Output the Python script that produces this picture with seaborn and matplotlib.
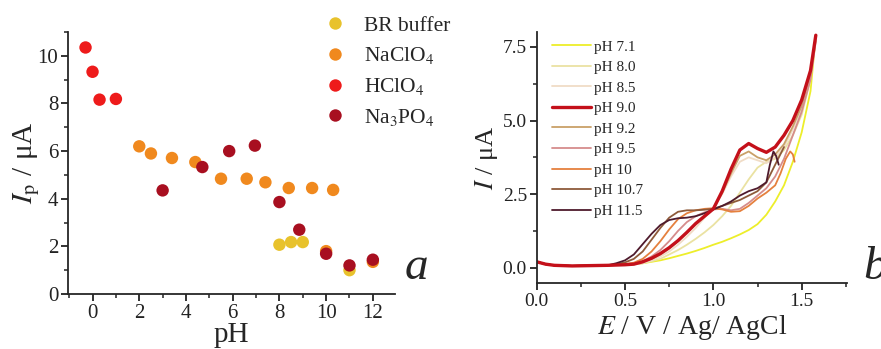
import numpy as np
import pandas as pd
import matplotlib
matplotlib.use("Agg")
import matplotlib.pyplot as plt
from matplotlib.ticker import MultipleLocator, FixedLocator
import seaborn as sns

# ---------------- Panel a data ----------------
br_ph = [8.0, 8.5, 9.0, 11.0]
br_ip = [2.07, 2.18, 2.18, 1.0]
naclo4_ph = [2.0, 2.5, 3.4, 4.4, 5.5, 6.6, 7.4, 8.4, 9.4, 10.3, 10.0, 12.0]
naclo4_ip = [6.2, 5.9, 5.71, 5.54, 4.84, 4.84, 4.69, 4.45, 4.45, 4.37, 1.8, 1.35]
hclo4_ph = [-0.3, 0.0, 0.3, 1.0]
hclo4_ip = [10.35, 9.33, 8.16, 8.19]
na3po4_ph = [3.0, 4.7, 5.85, 6.95, 8.0, 8.85, 10.0, 11.0, 12.0]
na3po4_ip = [4.35, 5.33, 6.0, 6.23, 3.86, 2.7, 1.69, 1.2, 1.44]

series_a = ["BR buffer", "NaClO$_4$", "HClO$_4$", "Na$_3$PO$_4$"]
colors_a = ["#E8C22C", "#F0891E", "#EE1B1B", "#A80F20"]

# ---------------- Panel b data ----------------
E_base = [0.0, 0.05, 0.1, 0.2, 0.3, 0.4]
I_base = [0.2, 0.12, 0.08, 0.06, 0.07, 0.08]

E_grid = [0.45, 0.5, 0.55, 0.6, 0.65, 0.7, 0.75, 0.8, 0.85, 0.9, 0.95, 1.0,
          1.05, 1.1, 1.15, 1.2, 1.25, 1.3, 1.35, 1.4, 1.45, 1.5, 1.55, 1.58]

I_ph71 = [0.09, 0.1, 0.12, 0.15, 0.2, 0.25, 0.32, 0.4, 0.48, 0.57, 0.67, 0.78,
          0.88, 1.0, 1.13, 1.28, 1.48, 1.8, 2.25, 2.8, 3.6, 4.6, 6.0, 7.9]
I_ph80 = [0.09, 0.1, 0.12, 0.15, 0.22, 0.3, 0.45, 0.6, 0.78, 0.98, 1.2, 1.45,
          1.75, 2.1, 2.55, 3.0, 3.4, 3.6, 3.7, 4.0, 4.5, 5.2, 6.4, 7.8]
I_ph85 = [0.09, 0.1, 0.12, 0.15, 0.25, 0.38, 0.55, 0.78, 1.05, 1.35, 1.7, 2.05,
          2.5, 3.1, 3.6, 3.75, 3.65, 3.55, 3.75, 4.1, 4.7, 5.4, 6.5, 7.8]
I_ph90 = [0.09, 0.1, 0.12, 0.2, 0.32, 0.48, 0.68, 0.92, 1.2, 1.5, 1.75, 2.0,
          2.6, 3.35, 4.0, 4.22, 4.05, 3.92, 4.1, 4.5, 5.0, 5.7, 6.7, 7.9]
I_ph92 = [0.09, 0.1, 0.13, 0.2, 0.3, 0.45, 0.65, 0.9, 1.2, 1.5, 1.78, 2.02,
          2.55, 3.2, 3.8, 3.95, 3.75, 3.65, 3.85, 4.2, 4.8, 5.5, 6.6, 7.85]
I_ph95 = [0.1, 0.12, 0.15, 0.22, 0.38, 0.6, 0.9, 1.25, 1.55, 1.75, 1.88, 1.98,
          2.0, 1.95, 2.0, 2.2, 2.45, 2.7, 3.1, 3.7, 4.5, 5.3, 6.4, 7.7]

E_ph10 = [0.45, 0.5, 0.55, 0.6, 0.65, 0.7, 0.75, 0.8, 0.85, 0.9, 0.95, 1.0,
          1.05, 1.1, 1.15, 1.2, 1.25, 1.3, 1.35, 1.38, 1.41, 1.435, 1.45, 1.46]
I_ph10 = [0.1, 0.12, 0.17, 0.3, 0.55, 0.9, 1.3, 1.65, 1.85, 1.95, 2.0, 2.02,
          1.98, 1.9, 1.92, 2.1, 2.35, 2.55, 2.8, 3.2, 3.7, 3.95, 3.85, 3.6]

E_ph107 = [0.45, 0.5, 0.55, 0.6, 0.65, 0.7, 0.75, 0.8, 0.85, 0.9, 0.95, 1.0,
           1.05, 1.1, 1.15, 1.2, 1.25, 1.3, 1.35, 1.4]
I_ph107 = [0.12, 0.18, 0.3, 0.55, 0.95, 1.35, 1.7, 1.9, 1.95, 1.95, 1.97, 2.0,
           2.1, 2.2, 2.3, 2.45, 2.6, 2.9, 3.5, 4.1]

E_ph115 = [0.45, 0.5, 0.55, 0.6, 0.65, 0.7, 0.75, 0.8, 0.85, 0.9, 0.95, 1.0,
           1.05, 1.1, 1.15, 1.2, 1.25, 1.3, 1.32, 1.34, 1.355, 1.37]
I_ph115 = [0.15, 0.25, 0.45, 0.8, 1.15, 1.45, 1.62, 1.68, 1.7, 1.75, 1.85, 1.98,
           2.1, 2.25, 2.45, 2.6, 2.7, 2.9, 3.5, 3.95, 3.8, 3.5]

labels_b = ["pH 7.1", "pH 8.0", "pH 8.5", "pH 9.0", "pH 9.2", "pH 9.5",
            "pH 10", "pH 10.7", "pH 11.5"]
colors_b = ["#EDEE2A", "#EAE2A2", "#F0DCC6", "#C4101A", "#C9A068", "#D58C8C",
            "#E5803E", "#8E5A3A", "#4E1A2C"]

# ---------------- styling ----------------
sns.set_style("ticks")
plt.rcParams["font.family"] = ["Liberation Serif", "DejaVu Serif"]
plt.rcParams["mathtext.fontset"] = "stix"
plt.rcParams["axes.linewidth"] = 1.3
plt.rcParams["xtick.major.width"] = 1.3
plt.rcParams["ytick.major.width"] = 1.3
plt.rcParams["xtick.minor.width"] = 1.1
plt.rcParams["ytick.minor.width"] = 1.1
plt.rcParams["xtick.color"] = "#222222"
plt.rcParams["ytick.color"] = "#222222"

fig = plt.figure(figsize=(8.81, 3.49), dpi=100)
ax1 = fig.add_axes([0.0772, 0.1576, 0.3712, 0.7507])
ax2 = fig.add_axes([0.6092, 0.1883, 0.3519, 0.7192])

# ---- panel a ----
df_a = pd.concat([
    pd.DataFrame({"pH": br_ph, "Ip": br_ip, "s": series_a[0]}),
    pd.DataFrame({"pH": naclo4_ph, "Ip": naclo4_ip, "s": series_a[1]}),
    pd.DataFrame({"pH": hclo4_ph, "Ip": hclo4_ip, "s": series_a[2]}),
    pd.DataFrame({"pH": na3po4_ph, "Ip": na3po4_ip, "s": series_a[3]}),
], ignore_index=True)
sns.scatterplot(data=df_a, x="pH", y="Ip", hue="s", hue_order=series_a,
                palette=colors_a, s=80, linewidth=0, ax=ax1, legend=True)
ax1.set_xlim(-1.05, 12.95)
ax1.set_ylim(0, 11)
ax1.xaxis.set_major_locator(MultipleLocator(2))
ax1.xaxis.set_minor_locator(MultipleLocator(1))
ax1.yaxis.set_major_locator(MultipleLocator(2))
ax1.yaxis.set_minor_locator(MultipleLocator(1))
ax1.tick_params(which="major", length=5, labelsize=15, pad=2)
ax1.tick_params(which="minor", length=3)
ax1.set_xlabel("pH", fontsize=21, labelpad=-0.5)
ax1.set_ylabel("$I_\\mathrm{p}$ / μA", fontsize=21, labelpad=-3)
sns.despine(ax=ax1)
h, l = ax1.get_legend_handles_labels()
ax1.legend(h, l, loc="upper left", bbox_to_anchor=(0.356, 0.955),
           bbox_transform=fig.transFigure, frameon=False, fontsize=15.5,
           handletextpad=0.35, labelspacing=0.45, markerscale=1.0,
           borderaxespad=0, borderpad=0)

# ---- panel b ----
curves = [
    (E_base + E_grid, I_base + I_ph71),
    (E_base + E_grid, I_base + I_ph80),
    (E_base + E_grid, I_base + I_ph85),
    (E_base + E_grid, I_base + I_ph90),
    (E_base + E_grid, I_base + I_ph92),
    (E_base + E_grid, I_base + I_ph95),
    (E_base + E_ph10, I_base + I_ph10),
    (E_base + E_ph107, I_base + I_ph107),
    (E_base + E_ph115, I_base + I_ph115),
]
df_b = pd.concat([pd.DataFrame({"E": e, "I": i, "pH": lab, "o": range(len(e))})
                  for (e, i), lab in zip(curves, labels_b)], ignore_index=True)
order_draw = ["pH 7.1", "pH 8.0", "pH 8.5", "pH 9.2", "pH 9.5", "pH 10",
              "pH 10.7", "pH 11.5", "pH 9.0"]
for lab in order_draw:
    k = labels_b.index(lab)
    sub = df_b[df_b["pH"] == lab]
    sns.lineplot(data=sub, x="E", y="I", sort=False, color=colors_b[k],
                 linewidth=2.4 if lab == "pH 9.0" else 1.3, ax=ax2,
                 label=lab, estimator=None)
h2, l2 = ax2.get_legend_handles_labels()
hm = dict(zip(l2, h2))
ax2.legend([hm[x] for x in labels_b], labels_b, loc="upper left",
           bbox_to_anchor=(0.048, 0.97), frameon=False, fontsize=11,
           handlelength=2.55, handletextpad=0.2, labelspacing=0.45,
           borderaxespad=0, borderpad=0)
ax2.set_xlim(0, 1.755)
ax2.set_ylim(-0.53, 8.0)
ax2.xaxis.set_major_locator(FixedLocator([0, 0.5, 1.0, 1.5]))
ax2.xaxis.set_minor_locator(FixedLocator([0.25, 0.75, 1.25, 1.75]))
ax2.yaxis.set_major_locator(FixedLocator([0, 2.5, 5.0, 7.5]))
ax2.yaxis.set_minor_locator(FixedLocator([1.25, 3.75, 6.25]))
ax2.set_xticklabels(["0.0", "0.5", "1.0", "1.5"])
ax2.set_yticklabels(["0.0", "2.5", "5.0", "7.5"])
ax2.tick_params(which="major", length=5, labelsize=14, pad=2)
ax2.tick_params(which="minor", length=3)
ax2.set_xlabel("$E$ / V / Ag/ AgCl", fontsize=20, labelpad=2)
ax2.set_ylabel("$I$ / μA", fontsize=19, labelpad=2)
sns.despine(ax=ax2)

fig.text(0.473, 0.2, "a", fontsize=34, style="italic", ha="center", va="baseline")
fig.text(0.98, 0.2, "b", fontsize=34, style="italic", ha="left", va="baseline")

fig.savefig("out.png", dpi=100)
